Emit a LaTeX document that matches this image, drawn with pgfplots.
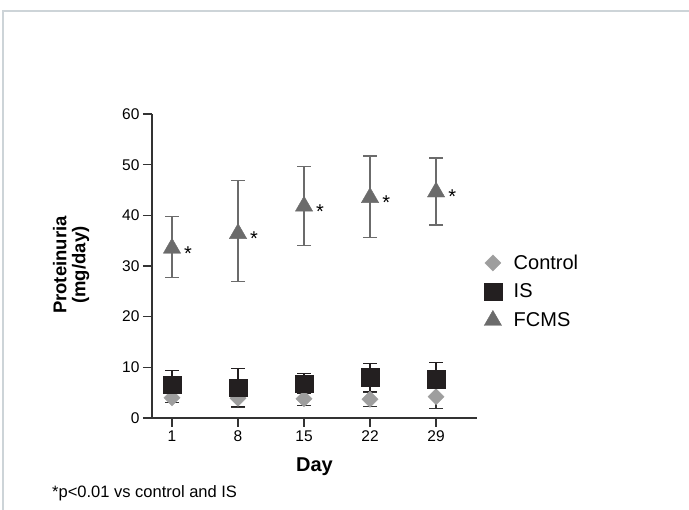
\documentclass[border=0pt]{standalone}
\usepackage{pgfplots}
\pgfplotsset{compat=1.18}
\usepackage{fontspec}
\setmainfont{Liberation Sans}
\definecolor{ctrlgray}{HTML}{9E9E9E}
\definecolor{isblack}{HTML}{231F20}
\definecolor{fcmsgray}{HTML}{6B6B6B}
\definecolor{axisgray}{HTML}{333333}
\definecolor{framegray}{HTML}{CDD4D8}

\begin{document}
\begin{tikzpicture}[x=1pt,y=1pt]
\path[use as bounding box] (0,0) rectangle (689,510);
\draw[framegray, line width=2pt] (3,0) -- (3,499) -- (689,499);
\begin{axis}[
    at={(152pt,92pt)}, anchor=south west,
    scale only axis, width=325pt, height=304pt,
    xmin=-0.303, xmax=4.62, ymin=0, ymax=60,
    axis x line*=bottom, axis y line*=left,
    axis line style={axisgray, line width=1.2pt},
    tick style={axisgray, line width=1.2pt},
    major tick length=9pt, tick align=outside,
    xtick={0,1,2,3,4}, xticklabels={1,8,15,22,29},
    ytick={0,10,20,30,40,50,60},
    tick label style={font=\fontsize{15.5}{15.5}\selectfont, text=black},
    /pgf/number format/assume math mode=true,
    xlabel={Day}, ylabel={Proteinuria\\(mg/day)},
    every axis x label/.style={at={(axis description cs:0.5,-0.161)}, anchor=center,
        font=\bfseries\fontsize{20}{20}\selectfont},
    every axis y label/.style={at={(axis description cs:-0.249,0.503)}, anchor=center,
        rotate=90, align=center, font=\bfseries\fontsize{18.5}{19}\selectfont},
    clip=false,
    error bars/y dir=both, error bars/y explicit,
    legend style={at={(1.012,0.55)}, anchor=north west, draw=none, fill=none,
        font=\fontsize{20}{20}\selectfont, row sep=9pt},
    legend cell align=left,
]
% Control
\addplot[only marks, color=ctrlgray, mark=square*, mark size=5.7pt,
    mark options={rotate=45, fill=ctrlgray, draw=ctrlgray},
    error bars/error bar style={axisgray, line width=1.2pt},
    error bars/error mark options={rotate=90, mark size=7pt, axisgray, line width=1.2pt}]
coordinates {
    (0,4.0) +- (0,1.0)
    (1,3.9) +- (0,1.8)
    (2,3.8) +- (0,1.3)
    (3,3.7) +- (0,1.4)
    (4,4.2) +- (0,2.4)
};
% IS
\addplot[only marks, color=isblack, mark=square*, mark size=8.8pt,
    mark options={fill=isblack, draw=isblack},
    error bars/error bar style={isblack, line width=1.2pt},
    error bars/error mark options={rotate=90, mark size=7pt, isblack, line width=1.2pt}]
coordinates {
    (0,6.6) +- (0,2.7)
    (1,6.0) +- (0,3.8)
    (2,6.8) +- (0,2.0)
    (3,8.0) +- (0,2.8)
    (4,7.6) +- (0,3.4)
};
% FCMS
\addplot[only marks, color=fcmsgray, mark=triangle*, mark size=10pt,
    mark options={fill=fcmsgray, draw=fcmsgray},
    error bars/error bar style={fcmsgray, line width=1.2pt},
    error bars/error mark options={rotate=90, mark size=7pt, fcmsgray, line width=1.2pt},
    nodes near coords={*},
    every node near coord/.style={anchor=west, inner sep=0pt, xshift=12pt, yshift=-5pt,
        text=black, font=\fontsize{20}{20}\selectfont}]
coordinates {
    (0,33.5) += (0,6.2) -= (0,5.8)
    (1,36.4) += (0,10.5) -= (0,9.5)
    (2,41.8) += (0,7.9) -= (0,7.8)
    (3,43.5) += (0,8.2) -= (0,7.8)
    (4,44.6) += (0,6.7) -= (0,6.5)
};
\legend{\hspace*{10pt}Control,\hspace*{10pt}IS,\hspace*{10pt}FCMS}
\end{axis}
\node[anchor=west, inner sep=0pt, font=\fontsize{16.5}{16.5}\selectfont] at (52,17) {*p<0.01 vs control and IS};
\end{tikzpicture}
\end{document}
